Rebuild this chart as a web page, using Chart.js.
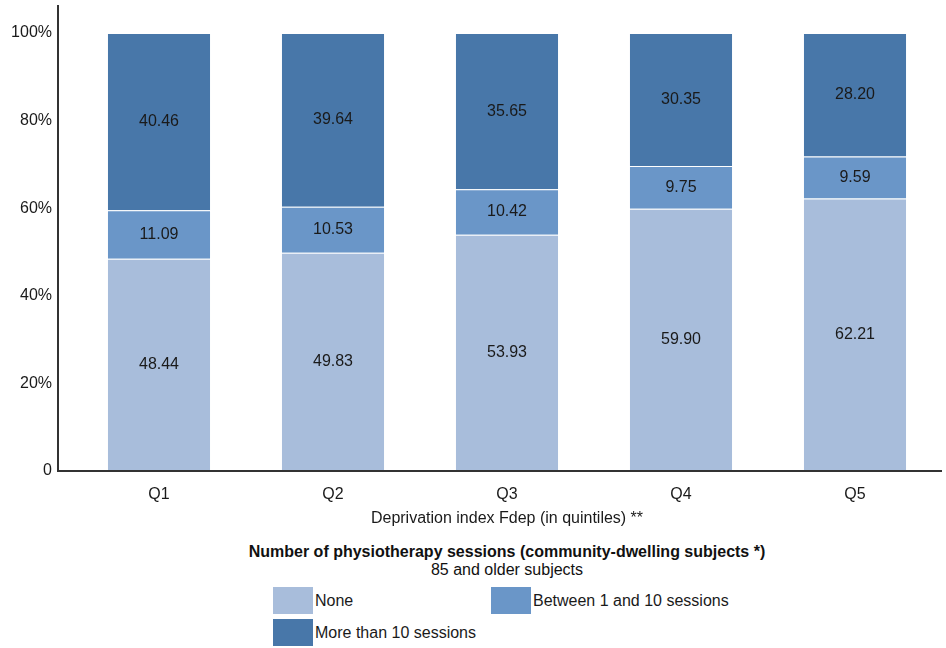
<!DOCTYPE html>
<html>
<head>
<meta charset="utf-8">
<script src="https://cdn.jsdelivr.net/npm/chart.js@4/dist/chart.umd.min.js"></script>
<style>
  body { margin: 0; background: #fff; font-family: Arial, "Liberation Sans", sans-serif; }
  #wrap { position: relative; width: 946px; height: 648px; }
  #chart { position: absolute; left: 0; top: 0; }
  .legTitle { position: absolute; left: 0; width: 1014px; text-align: center; font-size: 16px; color: #111; }
  .sw { position: absolute; width: 40px; height: 27px; }
  .lbl { position: absolute; font-size: 16px; color: #1a1a1a; }
</style>
</head>
<body>
<div id="wrap">
  <canvas id="chart" width="946" height="528"></canvas>
  <div class="legTitle" style="top:543px;font-weight:bold;">Number of physiotherapy sessions (community-dwelling subjects *)</div>
  <div class="legTitle" style="top:561px;">85 and older subjects</div>
  <div id="legend"></div>
</div>
<script>
// categories and values (percent)
const quintiles = ["Q1", "Q2", "Q3", "Q4", "Q5"];
const noneVals = [48.44, 49.83, 53.93, 59.90, 62.21];
const betweenVals = [11.09, 10.53, 10.42, 9.75, 9.59];
const moreVals = [40.46, 39.64, 35.65, 30.35, 28.20];
const seriesNames = ["None", "Between 1 and 10 sessions", "More than 10 sessions"];
const yTicks = [0, 20, 40, 60, 80, 100];

const colors = ["#a8bddb", "#6a96c8", "#4877a9"];

// legend
const legend = document.getElementById("legend");
const legPos = [[273, 587], [491, 587], [273, 619]];
seriesNames.forEach((name, i) => {
    const sw = document.createElement("div");
    sw.className = "sw";
    sw.style.left = legPos[i][0] + "px";
    sw.style.top = legPos[i][1] + "px";
    sw.style.background = colors[i];
    legend.appendChild(sw);
    const lb = document.createElement("div");
    lb.className = "lbl";
    lb.style.left = (legPos[i][0] + 42) + "px";
    lb.style.top = (legPos[i][1] + 5) + "px";
    lb.textContent = name;
    legend.appendChild(lb);
});

// value labels + axis lines
const extras = {
    id: "extras",
    afterDatasetsDraw(chart) {
        const ctx = chart.ctx;
        ctx.save();
        ctx.font = "16px Arial, 'Liberation Sans'";
        ctx.fillStyle = "#1a1a1a";
        ctx.textAlign = "center";
        ctx.textBaseline = "middle";
        chart.data.datasets.forEach((ds, di) => {
            chart.getDatasetMeta(di).data.forEach((bar, i) => {
                const y = (bar.y + bar.base) / 2;
                ctx.fillText(ds.data[i].toFixed(2), bar.x, y);
            });
        });
        const a = chart.chartArea;
        ctx.strokeStyle = "#333";
        ctx.lineWidth = 2;
        ctx.beginPath();
        ctx.moveTo(a.left - 14, a.top);
        ctx.lineTo(a.left - 14, a.bottom);
        ctx.lineTo(a.right, a.bottom);
        ctx.stroke();
        ctx.restore();
    }
};

new Chart(document.getElementById("chart"), {
    type: "bar",
    data: {
        labels: quintiles,
        datasets: [
            { label: seriesNames[0], data: noneVals, backgroundColor: colors[0] },
            { label: seriesNames[1], data: betweenVals, backgroundColor: colors[1] },
            { label: seriesNames[2], data: moreVals, backgroundColor: colors[2] }
        ].map(d => Object.assign(d, {
            borderColor: "rgba(255,255,255,0.2)",
            borderWidth: 1,
            barPercentage: 0.598,
            categoryPercentage: 1
        }))
    },
    options: {
        responsive: false,
        animation: false,
        layout: { padding: { top: 5, right: 4, left: 0, bottom: 0 } },
        plugins: { legend: { display: false }, tooltip: { enabled: false } },
        scales: {
            x: {
                stacked: true,
                offset: true,
                grid: { display: false, drawTicks: false },
                border: { display: false },
                ticks: { color: "#1a1a1a", font: { size: 16, family: "Arial" }, padding: 14 },
                title: {
                    display: true,
                    text: "Deprivation index Fdep (in quintiles) **",
                    color: "#1a1a1a",
                    font: { size: 16, family: "Arial" },
                    padding: { top: 6, bottom: 0 }
                },
                afterFit(scale) { scale.height = 57; }
            },
            y: {
                stacked: true,
                min: 0,
                max: 106.4,
                grid: { display: false, drawTicks: false },
                border: { display: false },
                afterBuildTicks(scale) { scale.ticks = yTicks.map(v => ({ value: v })); },
                ticks: {
                    color: "#1a1a1a",
                    font: { size: 16, family: "Arial" },
                    padding: 20,
                    callback: v => v === 0 ? "0" : v + "%"
                },
                afterFit(scale) {
                    scale.width = 72;
                    scale.paddingTop = 0;
                    scale.paddingBottom = 0;
                }
            }
        }
    },
    plugins: [extras]
});
</script>
</body>
</html>
